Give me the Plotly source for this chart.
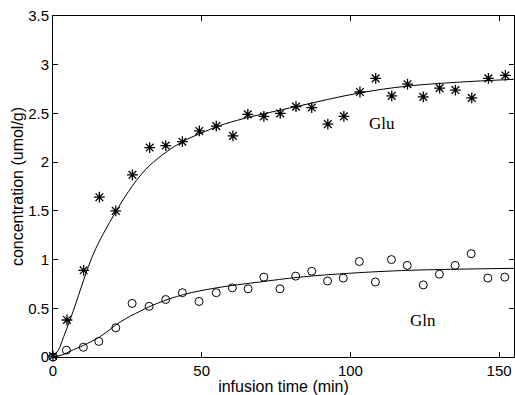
import plotly.graph_objects as go

glu_t = [0, 4.7, 10.3, 15.6, 21.1, 26.7, 32.5, 37.9, 43.5, 49.2, 54.9, 60.5, 65.5,
         70.9, 76.4, 81.7, 87.0, 92.4, 97.8, 103.2, 108.5, 113.9, 119.2, 124.5,
         130.0, 135.3, 140.8, 146.4, 152.1]
glu_c = [0.01, 0.38, 0.89, 1.64, 1.50, 1.87, 2.15, 2.17, 2.21, 2.32, 2.37, 2.27, 2.49,
         2.47, 2.50, 2.57, 2.56, 2.39, 2.47, 2.72, 2.86, 2.68, 2.80, 2.67,
         2.76, 2.74, 2.66, 2.86, 2.89]

gln_t = [0, 4.5, 10.2, 15.4, 21.1, 26.6, 32.3, 37.9, 43.5, 49.1, 54.9, 60.3, 65.6,
         70.9, 76.3, 81.6, 87.0, 92.3, 97.6, 103.0, 108.4, 113.8, 119.1, 124.5,
         129.9, 135.2, 140.6, 146.2, 151.9]
gln_c = [0.0, 0.07, 0.10, 0.16, 0.30, 0.55, 0.52, 0.59, 0.66, 0.57, 0.66, 0.71, 0.70,
         0.82, 0.70, 0.83, 0.88, 0.78, 0.81, 0.98, 0.77, 1.00, 0.94, 0.74,
         0.85, 0.94, 1.06, 0.81, 0.82]

# Fitted curves
glu_fit_t = [0, 1.8, 3.6, 6.9, 10.3, 13.6, 17, 21.1, 25.4, 31, 36.6, 43.5, 50, 55.6, 64.5,
             81.7, 103, 119, 136, 155]
glu_fit_c = [0, 0.07, 0.21, 0.48, 0.79, 1.06, 1.27, 1.49, 1.70, 1.92, 2.07, 2.21, 2.30, 2.37, 2.45,
             2.57, 2.71, 2.78, 2.82, 2.85]

gln_fit_t = [0, 3, 5.8, 10.3, 15.9, 22.6, 29.3, 35, 43.8, 55, 69.6, 83, 100, 120, 155]
gln_fit_c = [0, 0.02, 0.06, 0.12, 0.21, 0.36, 0.47, 0.55, 0.64, 0.71, 0.77, 0.82, 0.86, 0.89, 0.91]

x_ticks = [0, 50, 100, 150]
y_ticks = [0, 0.5, 1, 1.5, 2, 2.5, 3, 3.5]
y_tick_text = ["0", "0.5", "1", "1.5", "2", "2.5", "3", "3.5"]

fig = go.Figure()
fig.add_trace(go.Scatter(x=glu_fit_t, y=glu_fit_c, mode="lines",
                         line=dict(color="black", width=1, shape="spline", smoothing=1.0),
                         showlegend=False, hoverinfo="skip"))
fig.add_trace(go.Scatter(x=gln_fit_t, y=gln_fit_c, mode="lines",
                         line=dict(color="black", width=1, shape="spline", smoothing=1.0),
                         showlegend=False, hoverinfo="skip"))
fig.add_trace(go.Scatter(x=glu_t, y=glu_c, mode="markers", name="Glu",
                         marker=dict(symbol="asterisk-open", size=9, color="black",
                                     line=dict(color="black", width=1.3)),
                         showlegend=False, cliponaxis=False))
fig.add_trace(go.Scatter(x=gln_t, y=gln_c, mode="markers", name="Gln",
                         marker=dict(symbol="circle-open", size=8, color="black",
                                     line=dict(color="black", width=1)),
                         showlegend=False, cliponaxis=False))

fig.add_annotation(x=110.6, y=2.40, text="Glu", showarrow=False,
                   font=dict(family="Liberation Serif", size=17, color="black"))
fig.add_annotation(x=124.4, y=0.37, text="Gln", showarrow=False,
                   font=dict(family="Liberation Serif", size=17, color="black"))

axis_common = dict(showgrid=False, zeroline=False, showline=True, linecolor="black",
                   linewidth=1, mirror="ticks", ticks="inside", ticklen=5,
                   tickcolor="black", tickfont=dict(family="Liberation Sans", size=15, color="black"))

fig.update_xaxes(range=[0, 155], tickvals=x_ticks,
                 title=dict(text="infusion time (min)", standoff=3,
                            font=dict(family="Liberation Sans", size=16, color="black")),
                 **axis_common)
fig.update_yaxes(range=[0, 3.5], tickvals=y_ticks, ticktext=y_tick_text,
                 title=dict(text="concentration (umol/g)", standoff=0,
                            font=dict(family="Liberation Sans", size=16, color="black")),
                 **axis_common)

fig.update_layout(width=515, height=395, plot_bgcolor="white", paper_bgcolor="white",
                  margin=dict(l=53, r=1, t=16, b=38, autoexpand=False), showlegend=False)

fig.write_html("out.html", config={"displayModeBar": False},
               post_script="document.body.style.margin='0px';"
                           "document.documentElement.style.overflow='hidden';")
